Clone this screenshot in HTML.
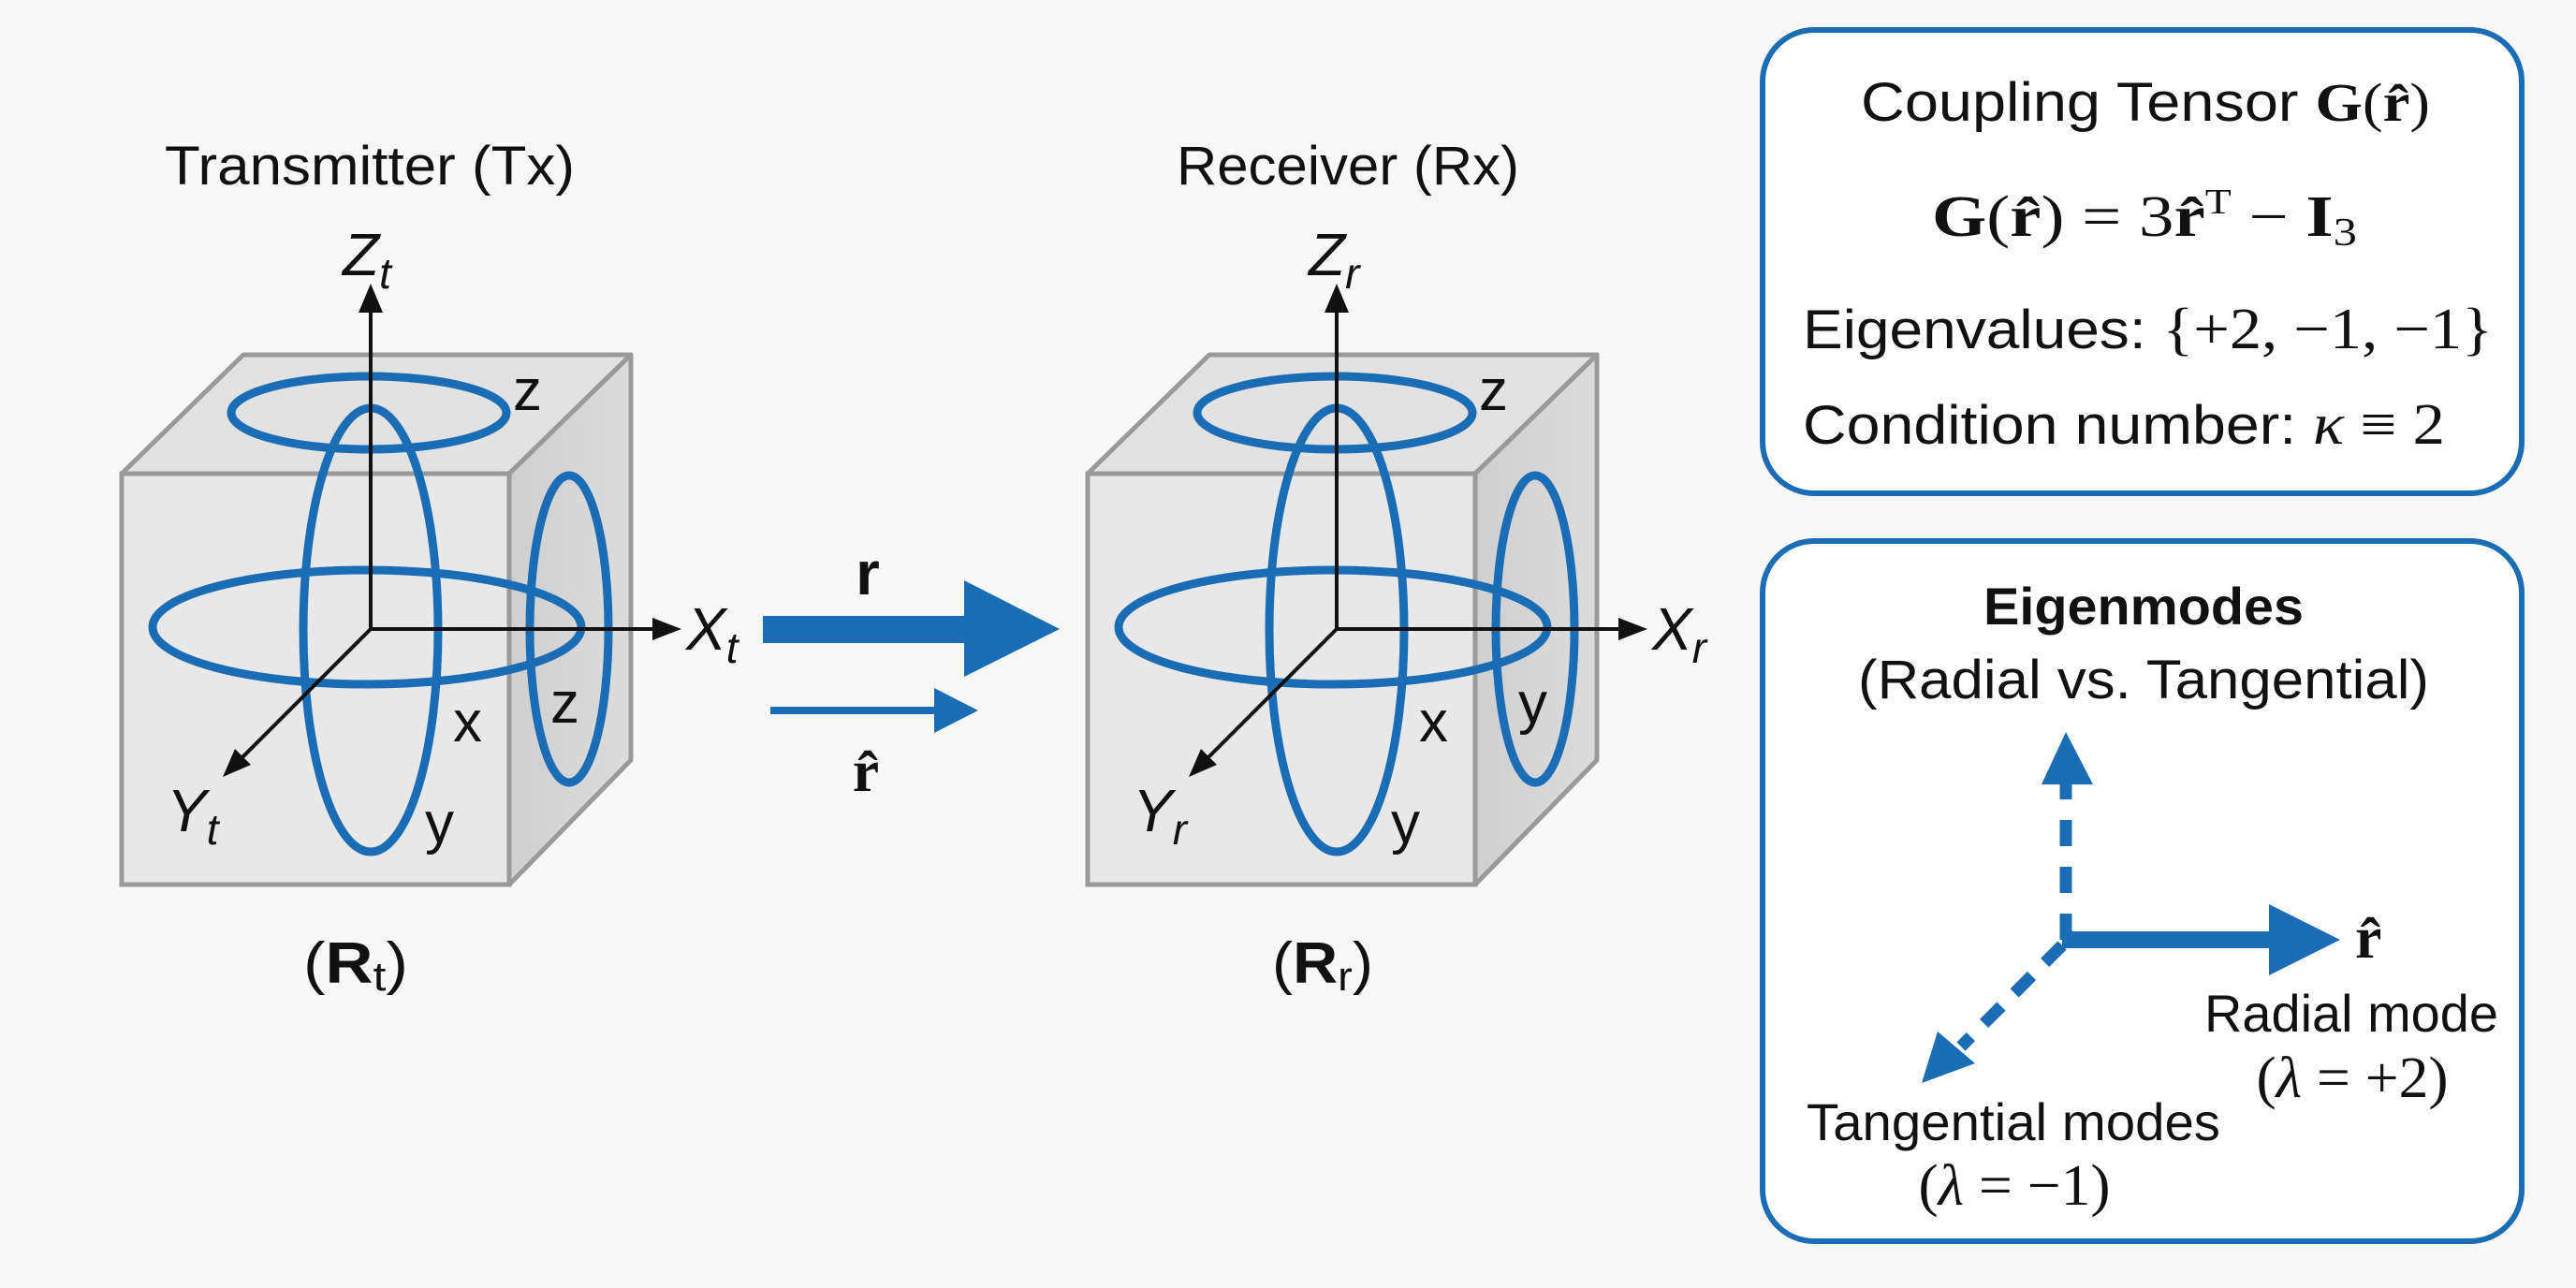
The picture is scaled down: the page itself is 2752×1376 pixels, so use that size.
<!DOCTYPE html>
<html><head><meta charset="utf-8"><style>
html,body{margin:0;padding:0;background:#f8f8f8;}
svg{display:block;}
.s{font-family:"Liberation Sans",sans-serif;}
.m{font-family:"Liberation Serif",serif;}
</style></head><body>
<svg width="2752" height="1376" viewBox="0 0 2752 1376" xmlns="http://www.w3.org/2000/svg">
<defs>
<linearGradient id="side" x1="0" y1="0" x2="1" y2="0"><stop offset="0" stop-color="#cfcfcf"/><stop offset="1" stop-color="#dcdcdc"/></linearGradient>
<g id="cube">
  <polygon points="130,506 260,379 674,379 544,506" fill="#e2e2e2" stroke="#9a9a9a" stroke-width="5" stroke-linejoin="round"/>
  <polygon points="544,506 674,379 674,812 544,945" fill="url(#side)" stroke="#9a9a9a" stroke-width="5" stroke-linejoin="round"/>
  <rect x="130" y="506" width="414" height="439" fill="#e8e8e8" stroke="#9a9a9a" stroke-width="5"/>
  <g fill="none" stroke="#1a6db5" stroke-width="9">
    <ellipse cx="394" cy="441" rx="147" ry="39"/>
    <ellipse cx="608" cy="672" rx="42" ry="164"/>
    <ellipse cx="392" cy="670" rx="229" ry="61"/>
    <ellipse cx="396" cy="673" rx="72" ry="237"/>
  </g>
  <g stroke="#111" stroke-width="4" fill="none">
    <line x1="396" y1="672" x2="396" y2="330"/>
    <line x1="396" y1="672" x2="705" y2="672"/>
    <line x1="396" y1="672" x2="252" y2="816"/>
  </g>
  <g fill="#111">
    <polygon points="396,303 383,334 409,334"/>
    <polygon points="728,672 697,660 697,684"/>
    <polygon points="238,830 251,800 268,817"/>
  </g>
</g>
</defs>

<!-- Transmitter -->
<text x="395" y="197" class="s" font-size="58" text-anchor="middle" fill="#111" textLength="438" lengthAdjust="spacingAndGlyphs">Transmitter (Tx)</text>
<use href="#cube"/>
<g class="s" font-size="62" fill="#111">
  <text x="548" y="438">z</text>
  <text x="484" y="792">x</text>
  <text x="588" y="772">z</text>
  <text x="454" y="900">y</text>
  <text x="366" y="294" font-style="italic" font-size="64">Z<tspan font-size="46" dy="14">t</tspan></text>
  <text x="733" y="694" font-style="italic" font-size="64">X<tspan font-size="46" dy="14">t</tspan></text>
  <text x="178" y="888" font-style="italic" font-size="64">Y<tspan font-size="46" dy="14">t</tspan></text>
</g>
<text x="380" y="1050" class="s" font-size="62" text-anchor="middle" fill="#111" textLength="112" lengthAdjust="spacingAndGlyphs">(<tspan font-weight="bold">R</tspan><tspan font-size="44" dy="8">t</tspan><tspan dy="-8">)</tspan></text>

<!-- Arrows middle -->
<rect x="815" y="658" width="222" height="29" fill="#1a6db5"/>
<polygon points="1030,620 1132,672 1030,723" fill="#1a6db5"/>
<rect x="823" y="755" width="180" height="8" fill="#1a6db5"/>
<polygon points="998,735 1045,759 998,783" fill="#1a6db5"/>
<text x="927" y="635" class="s" font-size="66" font-weight="bold" text-anchor="middle" fill="#111">r</text>
<text x="925" y="845" class="m" font-size="64" font-weight="bold" text-anchor="middle" fill="#111">r̂</text>

<!-- Receiver -->
<text x="1440" y="197" class="s" font-size="58" text-anchor="middle" fill="#111" textLength="366" lengthAdjust="spacingAndGlyphs">Receiver (Rx)</text>
<use href="#cube" x="1032"/>
<g class="s" font-size="62" fill="#111">
  <text x="1580" y="438">z</text>
  <text x="1516" y="792">x</text>
  <text x="1622" y="772">y</text>
  <text x="1486" y="900">y</text>
  <text x="1398" y="294" font-style="italic" font-size="64">Z<tspan font-size="46" dy="14">r</tspan></text>
  <text x="1765" y="694" font-style="italic" font-size="64">X<tspan font-size="46" dy="14">r</tspan></text>
  <text x="1210" y="888" font-style="italic" font-size="64">Y<tspan font-size="46" dy="14">r</tspan></text>
</g>
<text x="1413" y="1050" class="s" font-size="62" text-anchor="middle" fill="#111" textLength="108" lengthAdjust="spacingAndGlyphs">(<tspan font-weight="bold">R</tspan><tspan font-size="44" dy="8">r</tspan><tspan dy="-8">)</tspan></text>

<!-- Top box -->
<rect x="1883" y="32" width="811" height="495" rx="55" fill="#fff" stroke="#1a6db5" stroke-width="6"/>
<text x="1988" y="129" class="s" font-size="58" fill="#111" textLength="608" lengthAdjust="spacingAndGlyphs">Coupling Tensor <tspan class="m" font-weight="bold">G</tspan><tspan class="m">(</tspan><tspan class="m" font-weight="bold">r̂</tspan><tspan class="m">)</tspan></text>
<text x="2064" y="252" class="m" font-size="62" fill="#111" textLength="454" lengthAdjust="spacingAndGlyphs"><tspan font-weight="bold">G</tspan>(<tspan font-weight="bold">r̂</tspan>) = 3<tspan font-weight="bold">r̂</tspan><tspan font-size="38" dy="-24">T</tspan><tspan dy="24"> − </tspan><tspan font-weight="bold">I</tspan><tspan font-size="42" dy="10">3</tspan></text>
<text x="1926" y="372" class="s" font-size="58" fill="#111" textLength="737" lengthAdjust="spacingAndGlyphs">Eigenvalues: <tspan class="m" font-size="62">{+2, −1, −1}</tspan></text>
<text x="1926" y="474" class="s" font-size="58" fill="#111" textLength="686" lengthAdjust="spacingAndGlyphs">Condition number: <tspan class="m" font-style="italic" font-size="62">κ</tspan><tspan class="m" font-size="62"> ≡ 2</tspan></text>

<!-- Bottom box -->
<rect x="1883" y="578" width="811" height="748" rx="55" fill="#fff" stroke="#1a6db5" stroke-width="6"/>
<text x="2290" y="667" class="s" font-size="56" font-weight="bold" text-anchor="middle" fill="#111" textLength="342" lengthAdjust="spacingAndGlyphs">Eigenmodes</text>
<text x="2290" y="746" class="s" font-size="58" text-anchor="middle" fill="#111" textLength="610" lengthAdjust="spacingAndGlyphs">(Radial vs. Tangential)</text>
<line x1="2207" y1="1004" x2="2207" y2="838" stroke="#1a6db5" stroke-width="13" stroke-dasharray="28,22"/>
<polygon points="2207,782 2181,838 2236,838" fill="#1a6db5"/>
<line x1="2203" y1="1004" x2="2430" y2="1004" stroke="#1a6db5" stroke-width="18"/>
<polygon points="2424,966 2500,1004 2424,1042" fill="#1a6db5"/>
<line x1="2203" y1="1010" x2="2095" y2="1118" stroke="#1a6db5" stroke-width="13" stroke-dasharray="26,20"/>
<polygon points="2053,1157 2070,1102 2110,1136" fill="#1a6db5"/>
<text x="2516" y="1023" class="m" font-size="64" font-weight="bold" fill="#111">r̂</text>
<text x="2512" y="1102" class="s" font-size="56" text-anchor="middle" fill="#111" textLength="314" lengthAdjust="spacingAndGlyphs">Radial mode</text>
<text x="2513" y="1172" class="m" font-size="62" text-anchor="middle" fill="#111" textLength="205" lengthAdjust="spacingAndGlyphs">(<tspan font-style="italic">λ</tspan> = +2)</text>
<text x="2151" y="1218" class="s" font-size="56" text-anchor="middle" fill="#111" textLength="442" lengthAdjust="spacingAndGlyphs">Tangential modes</text>
<text x="2152" y="1287" class="m" font-size="62" text-anchor="middle" fill="#111" textLength="205" lengthAdjust="spacingAndGlyphs">(<tspan font-style="italic">λ</tspan> = −1)</text>
</svg>
</body></html>
